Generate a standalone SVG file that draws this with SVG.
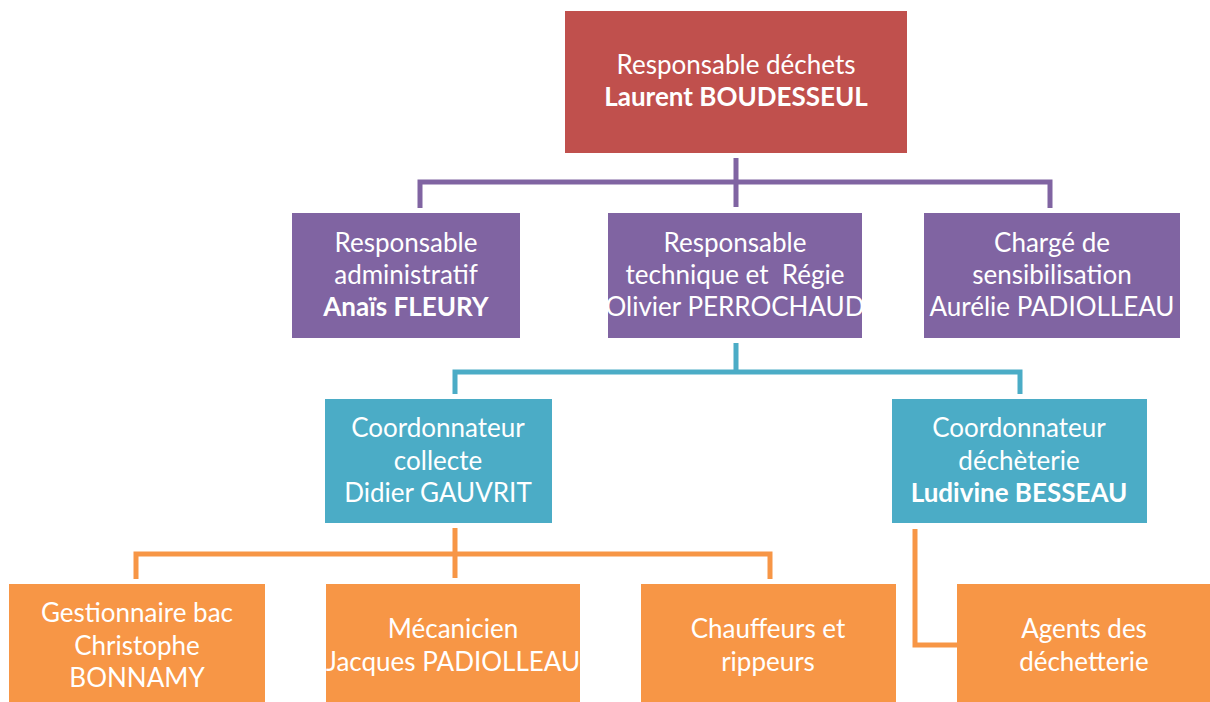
<svg xmlns="http://www.w3.org/2000/svg" width="1210" height="702" viewBox="0 0 1210 702">
<style>
  text{font-family:Lato,"Open Sans","Liberation Sans",sans-serif;font-size:26px;fill:#fff;text-anchor:middle}
  .b{font-weight:bold}
  .red{fill:#C0504D}
  .pur{fill:#8064A2}
  .cy{fill:#4BACC6}
  .or{fill:#F79646}
  .cp{stroke:#8064A2;stroke-width:5;fill:none}
  .cc{stroke:#4BACC6;stroke-width:5;fill:none}
  .co{stroke:#F79646;stroke-width:5;fill:none}
</style>
<rect width="1210" height="702" fill="#fff"/>
<g id="connectors">
  <path class="cp" d="M736 158V207M420 208V182H1050V208"/>
  <path class="cc" d="M736 343V372M455 394V372H1020V394"/>
  <path class="co" d="M455 528V578M136 579V554H770V579"/>
  <path class="co" d="M915 529V645H957"/>
</g>
<g id="n1"><rect class="red" x="565" y="11" width="342" height="142"/>
  <text x="736" y="74">Responsable déchets</text><text class="b" x="736" y="106">Laurent BOUDESSEUL</text></g>
<g id="n2"><rect class="pur" x="292" y="213" width="228" height="125"/>
  <text x="406" y="252">Responsable</text><text x="406" y="284">administratif</text><text class="b" x="406" y="316">Anaïs FLEURY</text></g>
<g id="n3"><rect class="pur" x="608" y="213" width="254" height="125"/>
  <text x="735" y="252">Responsable</text><text x="735" y="284">technique et&#160; Régie</text><text x="735" y="316">Olivier PERROCHAUD</text></g>
<g id="n4"><rect class="pur" x="924" y="213" width="256" height="125"/>
  <text x="1052" y="252">Chargé de</text><text x="1052" y="284">sensibilisation</text><text x="1052" y="316">Aurélie PADIOLLEAU</text></g>
<g id="n5"><rect class="cy" x="325" y="399" width="227" height="124"/>
  <text x="438" y="437">Coordonnateur</text><text x="438" y="470">collecte</text><text x="438" y="502">Didier GAUVRIT</text></g>
<g id="n6"><rect class="cy" x="892" y="399" width="255" height="124"/>
  <text x="1019" y="437">Coordonnateur</text><text x="1019" y="470">déchèterie</text><text class="b" x="1019" y="502">Ludivine BESSEAU</text></g>
<g id="n7"><rect class="or" x="9" y="584" width="256" height="118"/>
  <text x="137" y="622">Gestionnaire bac</text><text x="137" y="655">Christophe</text><text x="137" y="687">BONNAMY</text></g>
<g id="n8"><rect class="or" x="326" y="584" width="254" height="118"/>
  <text x="453" y="638">Mécanicien</text><text x="453" y="671">Jacques PADIOLLEAU</text></g>
<g id="n9"><rect class="or" x="641" y="584" width="255" height="118"/>
  <text x="768" y="638">Chauffeurs et</text><text x="768" y="671">rippeurs</text></g>
<g id="n10"><rect class="or" x="957" y="584" width="253" height="118"/>
  <text x="1084" y="638">Agents des</text><text x="1084" y="671">déchetterie</text></g>
</svg>
